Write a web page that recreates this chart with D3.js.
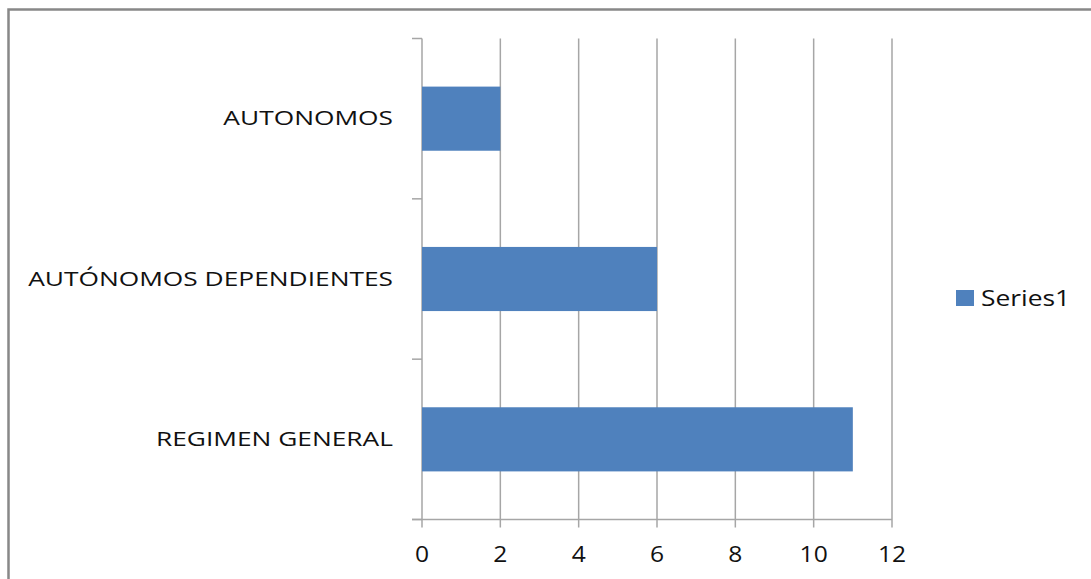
<!DOCTYPE html>
<html>
<head>
<meta charset="utf-8">
<script src="https://cdn.jsdelivr.net/npm/d3@7"></script>
<style>
    body { margin: 0; background: #fff; }
    text { font-family: "Open Sans", "Liberation Sans", sans-serif; fill: #111; }
</style>
</head>
<body>
<svg id="chart" width="1091" height="579"></svg>
<script>
// chart data
const categories  = ["AUTONOMOS", "AUTÓNOMOS DEPENDIENTES", "REGIMEN GENERAL"];
const series1     = [2, 6, 11];
const xTicks      = [0, 2, 4, 6, 8, 10, 12];
const seriesName  = "Series1";

const svg = d3.select("#chart");

// outer frame: only top and left edges fall inside the picture
svg.append("path")
    .attr("d", "M8.5,579 L8.5,9.5 L1091,9.5")
    .attr("fill", "none")
    .attr("stroke", "#888")
    .attr("stroke-width", 2.5);

const margin = { top: 38.5, left: 422, right: 199, bottom: 59.5 };
const innerWidth  = 1091 - margin.left - margin.right;
const innerHeight = 579 - margin.top - margin.bottom;

const chart = svg.append("g")
    .attr("transform", `translate(${margin.left},${margin.top})`);

const x = d3.scaleLinear().domain([0, 12]).range([0, innerWidth]);
const y = d3.scaleBand().domain(categories).range([0, innerHeight])
    .paddingInner(0.6).paddingOuter(0.3);

const gridColor = "#a6a6a6";

// vertical grid lines, running a bit below the axis as tick marks
chart.selectAll(".grid").data(xTicks)
    .enter().append("line")
    .attr("class", "grid")
    .attr("x1", d => x(d)).attr("x2", d => x(d))
    .attr("y1", 0).attr("y2", innerHeight + 8)
    .attr("stroke", gridColor)
    .attr("stroke-width", 1.5);

// x axis line
chart.append("line")
    .attr("x1", -10).attr("x2", innerWidth)
    .attr("y1", innerHeight).attr("y2", innerHeight)
    .attr("stroke", gridColor).attr("stroke-width", 1.5);

// y axis tick marks at band boundaries
const step = innerHeight / categories.length;
const yBounds = d3.range(categories.length + 1).map(i => i * step);
chart.selectAll(".ytick").data(yBounds)
    .enter().append("line")
    .attr("class", "ytick")
    .attr("x1", -10).attr("x2", 0)
    .attr("y1", d => d).attr("y2", d => d)
    .attr("stroke", gridColor).attr("stroke-width", 1.5);

// bars
chart.selectAll(".bar").data(series1)
    .enter().append("rect")
    .attr("class", "bar")
    .attr("x", x(0))
    .attr("y", (d, i) => y(categories[i]))
    .attr("width", d => x(d) - x(0))
    .attr("height", y.bandwidth())
    .attr("fill", "#4f81bd");

// the source text looks stretched sideways, so scale glyphs horizontally
chart.selectAll(".xlabel").data(xTicks)
    .enter().append("text")
    .attr("class", "xlabel")
    .attr("transform", d => `translate(${x(d)},${innerHeight + 42}) scale(1.12,1)`)
    .attr("text-anchor", "middle")
    .style("font-size", "22px")
    .text(d => d);

// category labels
chart.selectAll(".ylabel").data(categories)
    .enter().append("text")
    .attr("class", "ylabel")
    .attr("transform", d => `translate(-29,${y(d) + y.bandwidth() / 2}) scale(1.35,1)`)
    .attr("dy", "0.35em")
    .attr("text-anchor", "end")
    .style("font-size", "19.5px")
    .text(d => d);

// legend
const legend = svg.append("g").attr("transform", "translate(956,290)");
legend.append("rect")
    .attr("width", 18).attr("height", 16)
    .attr("fill", "#4f81bd");
legend.append("text")
    .attr("transform", "translate(25,8) scale(1.2,1)")
    .attr("dy", "0.35em")
    .style("font-size", "22px")
    .text(seriesName);
</script>
</body>
</html>
